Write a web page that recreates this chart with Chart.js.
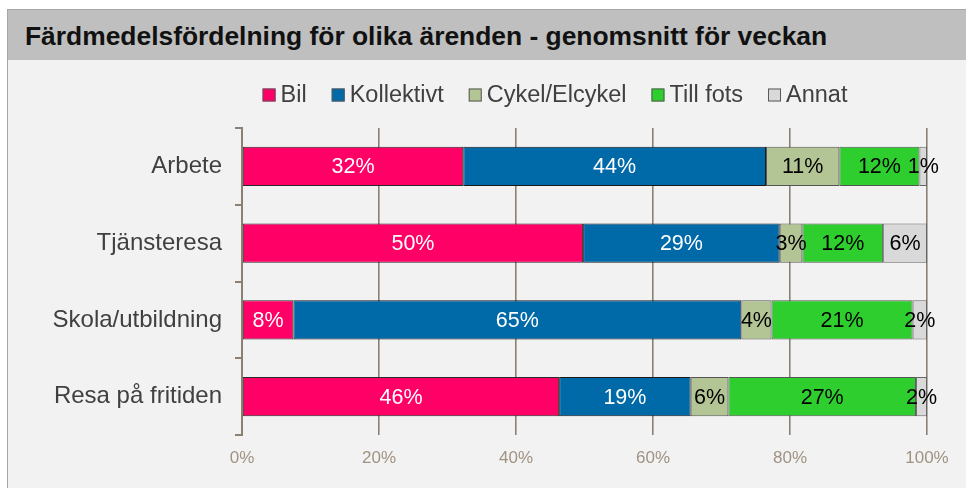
<!DOCTYPE html>
<html lang="sv">
<head>
<meta charset="utf-8">
<script src="https://cdn.jsdelivr.net/npm/chart.js@4.4.1/dist/chart.umd.min.js"></script>
<style>
  html, body { margin: 0; padding: 0; background: #fff; overflow: hidden; }
  body { width: 966px; height: 488px; position: relative; font-family: "Liberation Sans", Arial, sans-serif; }
  #panel { position: absolute; left: 7px; top: 9px; width: 1000px; height: 500px;
           background: #f2f2f2; border-left: 1px solid #a6a6a6; border-top: 1px solid #a6a6a6; }
  #title { position: absolute; left: 0; top: 0; width: 100%; height: 50px; background: #bfbfbf;
           font-weight: bold; font-size: 26.4px; line-height: 52px; padding-left: 17px; color: #111; box-sizing: border-box; }
  #myChart { position: absolute; left: 0; top: 50px; }
</style>
</head>
<body>
<div id="panel">
  <div id="title">Färdmedelsfördelning för olika ärenden - genomsnitt för veckan</div>
  <canvas id="myChart" width="959" height="429"></canvas>
</div>
<script>
// kategorier och serier (procent)
const categories = ['Arbete', 'Tjänsteresa', 'Skola/utbildning', 'Resa på fritiden'];
const bil = [32.3, 49.8, 7.5, 46.3];
const kollektivt = [44.2, 28.7, 65.4, 19.2];
const cykel = [10.7, 3.3, 4.4, 5.5];
const tillFots = [11.7, 11.8, 20.6, 27.4];
const annat = [1.1, 6.4, 2.1, 1.6];
const seriesNames = ['Bil', 'Kollektivt', 'Cykel/Elcykel', 'Till fots', 'Annat'];
const xTicks = [0, 20, 40, 60, 80, 100];

const colors = ['#ff0066', '#0069a8', '#b3c594', '#2fce2f', '#d9d9d9'];
const borders = ['#2a2a2a', '#1a1a1a', '#555555', '#555555', '#666666'];
const labelColors = ['#ffffff', '#ffffff', '#000000', '#000000', '#000000'];
const FONT = '"Liberation Sans", Arial, sans-serif';

// etiketter mitt i varje segment
const segmentLabels = {
    id: 'segmentLabels',
    afterDatasetsDraw(chart) {
        const ctx = chart.ctx;
        ctx.save();
        ctx.font = '21.5px ' + FONT;
        ctx.textAlign = 'center';
        ctx.textBaseline = 'middle';
        chart.data.datasets.forEach((ds, i) => {
            chart.getDatasetMeta(i).data.forEach((bar, j) => {
                const cx = (bar.x + bar.base) / 2;
                ctx.fillStyle = labelColors[i];
                ctx.fillText(Math.round(ds.data[j]) + '%', cx, bar.y + 1);
            });
        });
        ctx.restore();
    }
};

// egen legend, centrerad som i originalet
const customLegend = {
    id: 'customLegend',
    afterDraw(chart) {
        const ctx = chart.ctx;
        ctx.save();
        ctx.font = '23.5px ' + FONT;
        ctx.textBaseline = 'middle';
        const box = 13, gap = 5, spacing = 25;
        const widths = seriesNames.map(n => ctx.measureText(n).width);
        const total = widths.reduce((a, b) => a + b, 0) + seriesNames.length * (box + gap) + (seriesNames.length - 1) * spacing;
        let x = 547 - total / 2;
        const y = 35;
        seriesNames.forEach((n, i) => {
            ctx.fillStyle = colors[i];
            ctx.fillRect(x, y - box / 2, box, box);
            ctx.strokeStyle = '#595959';
            ctx.lineWidth = 1;
            ctx.strokeRect(x + 0.5, y - box / 2 + 0.5, box - 1, box - 1);
            ctx.fillStyle = '#404040';
            ctx.fillText(n, x + box + gap, y + 1);
            x += box + gap + widths[i] + spacing;
        });
        ctx.restore();
    }
};

const ctx = document.getElementById('myChart').getContext('2d');
const myChart = new Chart(ctx, {
    type: 'bar',
    data: {
        labels: categories,
        datasets: [bil, kollektivt, cykel, tillFots, annat].map((d, i) => ({
            label: seriesNames[i],
            data: d,
            backgroundColor: colors[i],
            borderColor: borders[i],
            borderWidth: 1,
            borderSkipped: false,
            categoryPercentage: 1,
            barPercentage: 0.51
        }))
    },
    options: {
        indexAxis: 'y',
        responsive: false,
        animation: false,
        devicePixelRatio: 1,
        layout: { padding: { top: 68, right: 40, left: 0, bottom: 0 } },
        plugins: {
            legend: { display: false },
            tooltip: { enabled: false }
        },
        scales: {
            x: {
                stacked: true,
                min: 0,
                max: 100,
                afterBuildTicks: (scale) => { scale.ticks = xTicks.map(v => ({ value: v })); },
                afterFit: (scale) => { scale.height = 54; },
                border: { display: false },
                grid: { color: '#8c8072', lineWidth: 1.6, drawTicks: false },
                ticks: {
                    padding: 13,
                    color: '#a09283',
                    font: { family: FONT, size: 17 },
                    callback: (v) => v + '%'
                }
            },
            y: {
                stacked: true,
                afterFit: (scale) => { scale.width = 234; },
                border: { display: true, color: '#8c8072', width: 2 },
                grid: { drawOnChartArea: false, offset: true, drawTicks: true, tickLength: 7, color: '#8c8072', lineWidth: 2 },
                ticks: {
                    padding: 13,
                    color: '#404040',
                    font: { family: FONT, size: 24 }
                }
            }
        }
    },
    plugins: [segmentLabels, customLegend]
});
</script>
</body>
</html>
